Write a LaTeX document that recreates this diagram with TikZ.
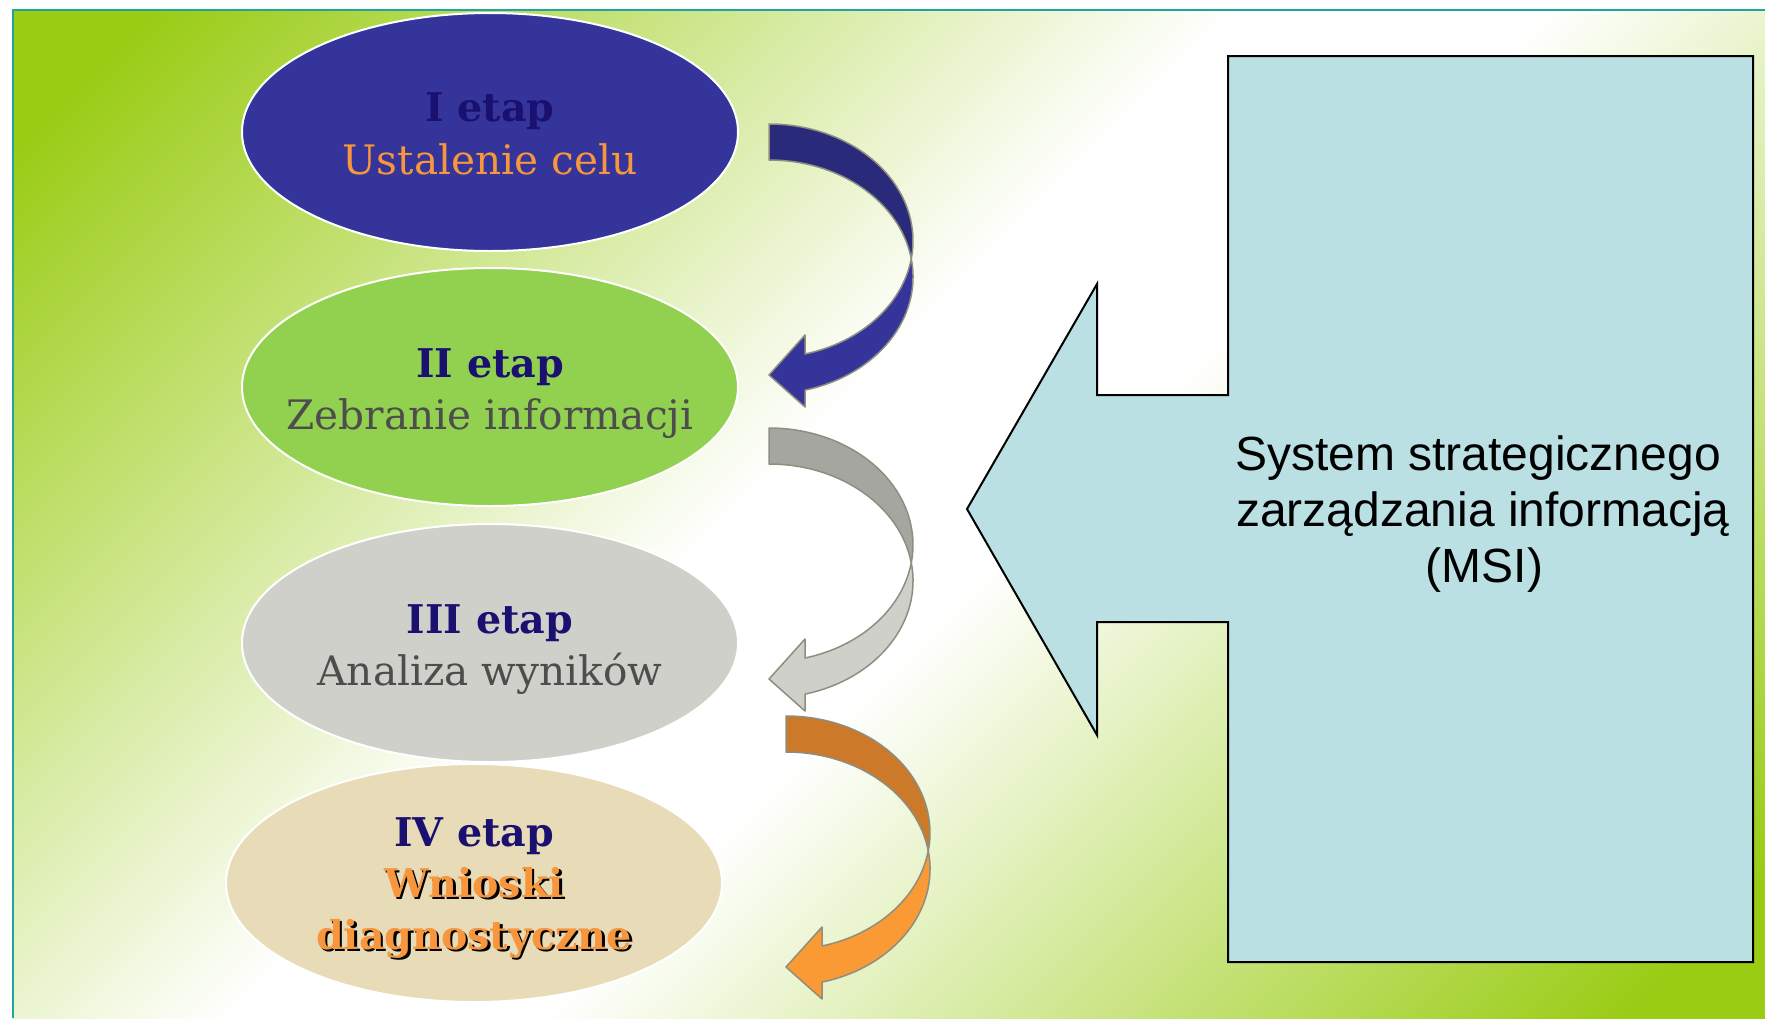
\documentclass[tikz,border=0pt]{standalone}
\usepackage{fontspec}
\setmainfont{DejaVu Serif}
\newfontfamily\msifont{Liberation Sans}
\usetikzlibrary{shapes.geometric}
\definecolor{bggreen}{HTML}{9ACC14}
\definecolor{framec}{HTML}{1FA59E}
\definecolor{eone}{HTML}{35349A}
\definecolor{etwo}{HTML}{92D050}
\definecolor{ethree}{HTML}{D0D0CA}
\definecolor{efour}{HTML}{E8DCB8}
\definecolor{titlec}{HTML}{1A1070}
\definecolor{greytext}{HTML}{4D4D4D}
\definecolor{orangec}{HTML}{F7963C}
\definecolor{calloutc}{HTML}{BAE0E3}
\definecolor{arrowline}{HTML}{8E8E80}
\definecolor{aonedark}{HTML}{2A2A7A}
\definecolor{aonelight}{HTML}{35349A}
\definecolor{atwodark}{HTML}{A6A6A0}
\definecolor{atwolight}{HTML}{D0D0CB}
\definecolor{athreedark}{HTML}{CC7A29}
\definecolor{athreelight}{HTML}{F99A35}
\pgfdeclareverticalshading{bgshade}{100bp}{color(0bp)=(bggreen); color(18bp)=(bggreen); color(46bp)=(white); color(54bp)=(white); color(82bp)=(bggreen); color(100bp)=(bggreen)}
\tikzset{
  stage/.style={ellipse, draw=white, line width=1pt, minimum width=248pt, minimum height=119pt, inner sep=0pt},
  ttl/.style={anchor=base, inner sep=0pt, text=titlec, font=\fontsize{19.8}{23}\selectfont\bfseries},
  sub/.style={anchor=base, inner sep=0pt, font=\fontsize{20.3}{24}\selectfont},
  big/.style={anchor=base, inner sep=0pt, font=\fontsize{19.8}{23}\selectfont\bfseries},
  msi/.style={anchor=base, inner sep=0pt, text=black, font=\msifont\fontsize{24}{28}\selectfont},
  arrowedge/.style={draw=arrowline, line width=0.75pt, line join=round}
}
% curved arrow: band between an ellipse and its copy shifted down by the band width
\newcommand\bentarrow[4]{%
  \begin{scope}[shift={(#1,#2)}]
    \filldraw[arrowedge, fill=#3] (769,124)
      arc[start angle=-90, end angle=8.86, x radius=144, y radius=116.9]
      arc[start angle=-8.86, end angle=-90, x radius=144, y radius=116.9] -- cycle;
    \filldraw[arrowedge, fill=#4] (911.3,258.9)
      arc[start angle=-8.86, end angle=75.5, x radius=144, y radius=116.9]
      -- (805,407) -- (769,375) -- (805,335) -- (805,354)
      arc[start angle=75.5, end angle=8.86, x radius=144, y radius=116.9] -- cycle;
  \end{scope}}
\begin{document}
\begin{tikzpicture}[x=0.5pt, y=-0.5pt]
\useasboundingbox (0,0) rectangle (1765,1018);
\fill[white] (0,0) rectangle (1765,1018);
\shade[shading=bgshade, shading angle=45] (13,10) rectangle (1765,1018);
\draw[framec, line width=1.2pt] (13,1018) -- (13,10) -- (1765,10);

% stages
\node[stage, fill=eone] (e1) at (490,132) {};
\node[stage, fill=etwo] (e2) at (490,387) {};
\node[stage, fill=ethree] (e3) at (490,643) {};
\node[stage, fill=efour] (e4) at (474,883) {};

\node[ttl] (t1) at (490,121.5) {I etap};
\node[sub, text=orangec] (s1) at (490,174) {Ustalenie celu};
\node[ttl] (t2) at (490,377) {II etap};
\node[sub, text=greytext] (s2) at (490,429) {Zebranie informacji};
\node[ttl] (t3) at (490,633) {III etap};
\node[sub, text=greytext] (s3) at (490,685) {Analiza wyników};
\node[ttl] (t4) at (474,846.5) {IV etap};
\node[big, text=black] (w4s) at (476.5,899.5) {Wnioski};
\node[big, text=orangec] (w4) at (474,897) {Wnioski};
\node[big, text=black] (d4s) at (476.5,951.5) {diagnostyczne};
\node[big, text=orangec] (d4) at (474,949) {diagnostyczne};

% bent arrows
\bentarrow{0}{0}{aonedark}{aonelight}
\bentarrow{0}{304}{atwodark}{atwolight}
\bentarrow{17}{592}{athreedark}{athreelight}

% callout
\filldraw[fill=calloutc, draw=black, line width=1pt, line join=miter]
  (1228,56) -- (1753,56) -- (1753,962) -- (1228,962) -- (1228,622)
  -- (1097,622) -- (1097,735) -- (967,509) -- (1097,284) -- (1097,395)
  -- (1228,395) -- cycle;
\node[msi] (m1) at (1478,470) {System strategicznego};
\node[msi] (m2) at (1483,526) {zarządzania informacją};
\node[msi] (m3) at (1484.5,582) {(MSI)};
\end{tikzpicture}
\end{document}
